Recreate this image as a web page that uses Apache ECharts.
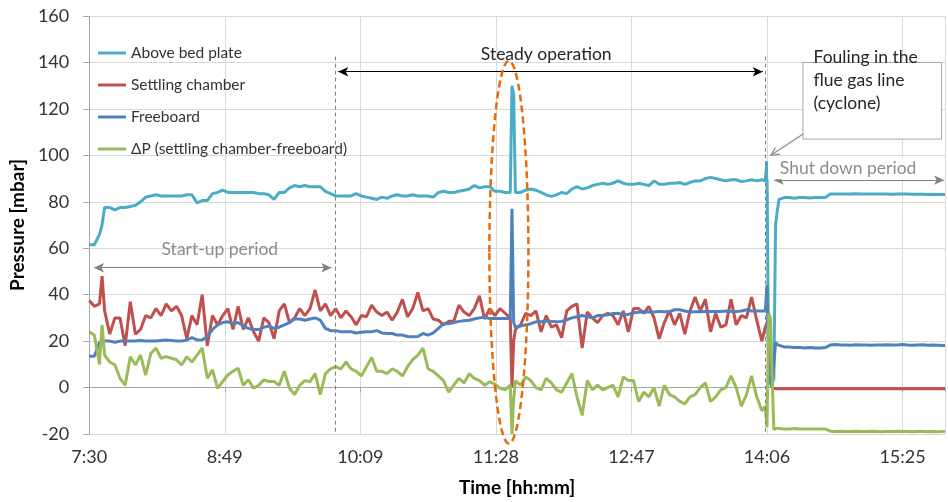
<!DOCTYPE html>
<html>
<head>
<meta charset="utf-8">
<script src="https://cdn.jsdelivr.net/npm/echarts@6/dist/echarts.min.js"></script>
<style>
  html, body { margin: 0; padding: 0; background: #fff; }
  #chart { width: 948px; height: 502px; }
</style>
</head>
<body>
<div id="chart"></div>
<script>
// time axis: minutes after 7:30
const minutes = [
  0, 3, 6, 7.5, 9, 12, 15, 18, 21, 24,
  27, 30, 33, 36, 39, 42, 45, 48, 51, 54,
  57, 60, 63, 66, 69, 72, 75, 78, 81, 84,
  87, 90, 93, 96, 99, 102, 105, 108, 111, 114,
  117, 120, 123, 126, 129, 132, 135, 138, 141, 144,
  147, 150, 153, 156, 159, 162, 165, 168, 171, 174,
  177, 180, 183, 186, 189, 192, 195, 198, 201, 204,
  207, 210, 213, 216, 219, 222, 225, 228, 231, 234,
  237, 240, 243, 246, 247, 248, 249, 252, 255, 258,
  261, 264, 267, 270, 273, 276, 279, 282, 285, 288,
  291, 294, 297, 300, 303, 306, 309, 312, 315, 318,
  321, 324, 327, 330, 333, 336, 339, 342, 345, 348,
  351, 354, 357, 360, 363, 366, 369, 372, 375, 378,
  381, 384, 387, 390, 393, 395, 396, 397, 398, 399,
  400, 401, 402, 403, 406, 409, 412, 415, 418, 421,
  424, 427, 430, 433, 436, 439, 442, 445, 448, 451,
  454, 457, 460, 463, 466, 469, 472, 475, 478, 481,
  484, 487, 490, 493, 496, 499, 500
];

// pressures in mbar
const aboveBedPlate = [
  61.5, 61.5, 66, 70, 77.5, 77.5, 76.5, 77.5, 77.5, 78,
  78.5, 80, 82, 82.5, 83, 82.5, 82.5, 82.5, 82.5, 82.5,
  83, 83, 79.5, 80.5, 80.5, 83.5, 84, 85, 84, 84,
  84, 84, 84, 84, 83.5, 83.5, 83, 81, 84, 84,
  86, 87, 86.5, 87, 86.5, 86.5, 86.5, 84.5, 83.5, 82.5,
  82.5, 82.5, 82.5, 83.5, 82.5, 82, 81.5, 81, 82, 81.5,
  82.5, 83, 82.5, 82.5, 83, 82.5, 82.5, 82.5, 82, 84,
  84.5, 84, 84, 84.5, 85, 85.5, 87, 86, 86.5, 86.5,
  84.5, 84.5, 84, 84, 130, 126, 84, 84, 85, 85.5,
  85, 84, 83, 82.3, 83, 84, 83.5, 85.5, 86.5, 85.5,
  86, 87, 87.5, 88, 87.5, 88, 89, 88, 87.5, 87.5,
  88, 87.5, 87, 89, 87.5, 87.5, 88, 88, 88.3, 87.5,
  88.3, 89, 89, 90, 90.5, 90, 89.5, 89, 89.5, 89.5,
  88.7, 89, 89.5, 89, 89.5, 89, 97.5, 2, 2, 2,
  4, 70, 76, 81, 81.8, 81.8, 81.5, 81.8, 81.8, 81.6,
  81.8, 81.8, 81.8, 83.3, 83.3, 83.4, 83.3, 83.3, 83.5, 83.3,
  83.3, 83.4, 83.3, 83.3, 83.3, 83.2, 83.3, 83.3, 83.3, 83.2,
  83.2, 83.2, 83.1, 83.2, 83.1, 83.1, 83.1
];

const settlingChamber = [
  37.5, 35, 36, 48, 33, 23, 30, 30, 18, 37,
  23, 25, 31, 30, 34, 31, 36, 33, 35, 31,
  21, 31, 27, 40, 18, 31, 27, 31, 34, 25,
  35, 25, 30, 24, 20, 30, 28, 21, 33, 36,
  28, 30, 34, 31, 34, 42, 33, 36, 31, 34,
  30, 33, 30.5, 27, 31, 30.5, 35.5, 32.5, 31, 32.5,
  29, 32.5, 38, 30.5, 34, 41, 33, 34, 29.5, 29,
  27, 28.5, 28.5, 35.5, 32.5, 31, 34, 39.5, 29.5, 34,
  31, 34, 32, 30, 0, 20, 25, 27, 32, 31,
  33, 24, 31, 26, 27, 21.5, 33, 35, 36, 17,
  32.5, 30, 28, 31, 32, 31, 27, 33, 24, 34,
  34, 32, 35, 30, 21, 28, 33, 27, 32, 23,
  33, 39, 33, 38, 24, 32, 26, 27, 38, 27,
  31, 30, 39, 29, 20, 26, 28, 30, 5, 0,
  -0.5, -0.5, -0.5, -0.5, -0.5, -0.5, -0.5, -0.5, -0.5, -0.5,
  -0.5, -0.5, -0.5, -0.5, -0.5, -0.5, -0.5, -0.5, -0.5, -0.5,
  -0.5, -0.5, -0.5, -0.5, -0.5, -0.5, -0.5, -0.5, -0.5, -0.5,
  -0.5, -0.5, -0.5, -0.5, -0.5, -0.5, -0.5
];

const freeboard = [
  13.5, 13.5, 19.5, 19.8, 20, 20, 19.5, 20, 20, 20,
  20, 20.3, 20, 20, 20, 20.3, 20.5, 20.3, 20, 20,
  20.5, 21.5, 20.5, 20.5, 22, 25, 27, 28, 28.3, 27.5,
  28, 26.5, 25.5, 25, 25, 26, 26.5, 25.5, 26, 27,
  28, 29.5, 29.5, 29, 29.5, 30, 29, 25.5, 24.5, 24.5,
  24, 24, 24, 23.5, 23.8, 24, 24, 24.5, 23.5, 23.3,
  23.3, 22.6, 22.6, 22, 21.9, 22, 23.3, 22.6, 23.5, 25.5,
  27.5, 27.5, 28, 28.5, 28.8, 29, 29.5, 30, 30.4, 29.7,
  29.7, 29.7, 29.7, 29.7, 77, 28, 26, 26.5, 27, 27.5,
  28.3, 28.3, 28.7, 28.5, 28.3, 28.5, 29.2, 30, 30.5, 31,
  30.5, 30, 31, 31, 31.3, 31.9, 31.9, 31.5, 31.5, 32.2,
  32.4, 32.6, 32.5, 32.5, 32.8, 32.6, 32.7, 33.5, 33.5, 33,
  32.5, 32.6, 32.6, 32.8, 32.8, 32.8, 32.8, 33, 32.8, 32.8,
  33, 33.5, 33, 33, 33, 33, 44, 10, 2, 0,
  0, 19.5, 18.5, 17.8, 17.5, 17.5, 17.2, 17.3, 17, 17.2,
  17, 17, 17.2, 18.3, 18.5, 18.3, 18.3, 18.2, 18.4, 18.3,
  18.3, 18.2, 18.3, 18.3, 18.4, 18.3, 18.3, 18.5, 18.3, 18.2,
  18.3, 18.4, 18.2, 18.3, 18.2, 18.1, 18.1
];

const deltaP = [
  24, 22.5, 10, 27, 14, 11, 9.7, 4, 1, 13.3,
  9.7, 14, 5.4, 14.7, 17, 12.6, 13.3, 12.6, 12, 9.7,
  13.3, 11, 14, 17, 4, 7.6, -0.3, 2.6, 5.4, 7,
  8.3, 1, 3.3, -0.3, 1, 3.3, 2.6, 2.6, 1, 7,
  -0.3, -3, 1, 3, 2.5, 6, -3, 6, 8, 9,
  8, 11, 8, 7, 5, 9, 13, 7, 7, 6,
  8, 7, 5, 9, 12, 14, 17, 8, 7, 5,
  3, -2, 1, 4, 2, 6, 4, 3, 1, 2.5,
  1.5, -0.3, -1, 1, -20, -5, 3, 1, 4.5, 3,
  0, -1, 4, 2, -1, -2, 2, 6, -4, -12,
  3, -1, 1, -1, 0, 1, -4, 4.5, 3, 3,
  -6, -2, -4, 0, -8, 1, -3, -4, -6, -7,
  -4, -3, 0, 2, -6, -4, -1, 0, 5, 0,
  -8, -3, 5, -4, -10, -8, -17, 32, 30, 5,
  -18, -17.5, -17.5, -17.5, -17.8, -17.8, -17.6, -17.8, -17.8, -17.9,
  -17.8, -17.9, -17.8, -18.8, -18.9, -18.8, -18.9, -18.9, -18.8, -18.9,
  -18.9, -18.8, -18.9, -19, -18.9, -18.9, -18.8, -18.9, -18.9, -19,
  -18.9, -18.9, -19, -18.9, -19, -18.9, -18.9
];

const seriesNames = ['Above bed plate', 'Settling chamber', 'Freeboard', 'ΔP (settling chamber-freeboard)'];
const seriesColors = ['#4bacc6', '#c0504d', '#4f81bd', '#9bbb59'];
const xTickLabels = ['7:30', '8:49', '10:09', '11:28', '12:47', '14:06', '15:25'];
const xTickStep = 79.2;

[aboveBedPlate, settlingChamber, freeboard, deltaP].forEach(function (arr, i) {
  if (arr.length !== minutes.length) throw new Error('length mismatch in series ' + i + ': ' + arr.length);
});

const FONT = 'Lato';
const chart = echarts.init(document.getElementById('chart'), null, { renderer: 'canvas' });

function pairs(values) {
  return minutes.map(function (m, i) { return [m, values[i]]; });
}

const lineSeries = [aboveBedPlate, settlingChamber, freeboard, deltaP].map(function (vals, i) {
  return {
    name: seriesNames[i],
    type: 'line',
    data: pairs(vals),
    showSymbol: false,
    symbol: 'none',
    color: seriesColors[i],
    lineStyle: { width: 3, color: seriesColors[i] },
    animation: false
  };
});

// annotation lines on the top series
lineSeries[3].markLine = {
  silent: true,
  animation: false,
  symbolSize: [7, 10],
  label: { show: false },
  data: [
    [{ coord: [144, 142.5], symbol: 'none', lineStyle: { color: '#808080', type: [4, 3], width: 1 } },
     { coord: [144, -20], symbol: 'none' }],
    [{ coord: [394.8, 142.5], symbol: 'none', lineStyle: { color: '#808080', type: [4, 3], width: 1 } },
     { coord: [394.8, -20], symbol: 'none' }],
    [{ coord: [145.5, 136], symbol: 'arrow', lineStyle: { color: '#000', type: 'solid', width: 1.2 } },
     { coord: [393.5, 136], symbol: 'arrow' }],
    [{ coord: [2.8, 51.6], symbol: 'arrow', lineStyle: { color: '#808080', type: 'solid', width: 1.2 } },
     { coord: [141.5, 51.6], symbol: 'arrow' }],
    [{ coord: [400, 89.3], symbol: 'arrow', lineStyle: { color: '#808080', type: 'solid', width: 1.2 } },
     { coord: [499.5, 89.3], symbol: 'arrow' }]
  ]
};

chart.setOption({
  backgroundColor: '#fff',
  animation: false,
  grid: { left: 83, right: 0, top: 16, bottom: 66, containLabel: false },
  legend: {
    data: seriesNames,
    orient: 'vertical',
    left: 93,
    top: 40,
    itemGap: 16,
    itemWidth: 28,
    itemHeight: 3,
    icon: 'rect',
    textStyle: { fontFamily: FONT, fontSize: 15.5, color: '#333', lineHeight: 16 }
  },
  xAxis: {
    type: 'value',
    min: 0,
    max: 500,
    interval: xTickStep,
    name: 'Time [hh:mm]',
    nameLocation: 'middle',
    nameGap: 44,
    nameTextStyle: { fontFamily: FONT, fontSize: 19, fontWeight: 'bold', color: '#000' },
    axisLine: { show: true, lineStyle: { color: '#a6a6a6', width: 1 } },
    axisTick: { show: true, length: 5, lineStyle: { color: '#a6a6a6' } },
    axisLabel: {
      fontFamily: FONT, fontSize: 18, color: '#333', margin: 14,
      formatter: function (v) {
        const k = Math.round(v / xTickStep);
        if (Math.abs(v / xTickStep - k) > 0.01) return '';
        return xTickLabels[k] || '';
      }
    },
    splitLine: { show: true, lineStyle: { color: '#d9d9d9', width: 1 } }
  },
  yAxis: {
    type: 'value',
    min: -20,
    max: 160,
    interval: 20,
    name: 'Pressure [mbar]',
    nameLocation: 'middle',
    nameGap: 41,
    nameTextStyle: { fontFamily: FONT, fontSize: 19, fontWeight: 'bold', color: '#000' },
    axisLine: { show: true, lineStyle: { color: '#a6a6a6', width: 1 } },
    axisTick: { show: true, length: 6, lineStyle: { color: '#a6a6a6' } },
    axisLabel: { fontFamily: FONT, fontSize: 18, color: '#333', margin: 20 },
    splitLine: { show: true, lineStyle: { color: '#d9d9d9', width: 1 } }
  },
  series: lineSeries
});

// text, callout box and ellipse placed from data coordinates
function px(m, v) { return chart.convertToPixel({ gridIndex: 0 }, [m, v]); }

const steadyPos = px(267, 143.3);
const startPos = px(76.3, 59.3);
const shutPos = px(443.4, 94.4);
const boxA = px(417, 140);
const boxB = px(498, 107);
const calloutText = px(423.2, 132.1);
const leadFrom = px(417.3, 109.3);
const leadTo = px(398.3, 100);
const ellA = px(233.8, 140.7);
const ellB = px(256.6, -24.1);

const ang = Math.atan2(leadFrom[1] - leadTo[1], leadFrom[0] - leadTo[0]);
const headLen = 9;
const head = [
  [leadTo[0] + headLen * Math.cos(ang - 0.45), leadTo[1] + headLen * Math.sin(ang - 0.45)],
  [leadTo[0], leadTo[1]],
  [leadTo[0] + headLen * Math.cos(ang + 0.45), leadTo[1] + headLen * Math.sin(ang + 0.45)]
];

chart.setOption({
  graphic: [
    {
      type: 'text', x: steadyPos[0], y: steadyPos[1], silent: true,
      style: { text: 'Steady operation', fill: '#262626', font: '17.5px ' + FONT, align: 'center', verticalAlign: 'middle' }
    },
    {
      type: 'text', x: startPos[0], y: startPos[1], silent: true,
      style: { text: 'Start-up period', fill: '#8c8c8c', font: '17.5px ' + FONT, align: 'center', verticalAlign: 'middle' }
    },
    {
      type: 'rect', silent: true, z: 10,
      shape: { x: shutPos[0] - 80, y: shutPos[1] - 11, width: 160, height: 22 },
      style: { fill: '#fff', stroke: null }
    },
    {
      type: 'text', x: shutPos[0], y: shutPos[1], silent: true, z: 11,
      style: { text: 'Shut down period', fill: '#8c8c8c', font: '17.5px ' + FONT, align: 'center', verticalAlign: 'middle' }
    },
    {
      type: 'rect', silent: true, z: 10,
      shape: { x: boxA[0], y: boxA[1], width: boxB[0] - boxA[0], height: boxB[1] - boxA[1] },
      style: { fill: '#fff', stroke: '#a6a6a6', lineWidth: 1 }
    },
    {
      type: 'text', x: calloutText[0], y: calloutText[1], silent: true, z: 11,
      style: {
        text: 'Fouling in the\nflue gas line\n(cyclone)', fill: '#262626', font: '17.5px ' + FONT,
        lineHeight: 23, align: 'left', verticalAlign: 'middle'
      }
    },
    {
      type: 'line', silent: true, z: 10,
      shape: { x1: leadFrom[0], y1: leadFrom[1], x2: leadTo[0], y2: leadTo[1] },
      style: { stroke: '#8c8c8c', lineWidth: 1.2 }
    },
    {
      type: 'polyline', silent: true, z: 10,
      shape: { points: head },
      style: { stroke: '#8c8c8c', lineWidth: 1.2, fill: null }
    },
    {
      type: 'ellipse', silent: true, z: 10,
      shape: {
        cx: (ellA[0] + ellB[0]) / 2, cy: (ellA[1] + ellB[1]) / 2,
        rx: (ellB[0] - ellA[0]) / 2, ry: (ellB[1] - ellA[1]) / 2
      },
      style: { fill: null, stroke: '#e46c0a', lineWidth: 2.5, lineDash: [7, 4] }
    }
  ]
});
</script>
</body>
</html>
